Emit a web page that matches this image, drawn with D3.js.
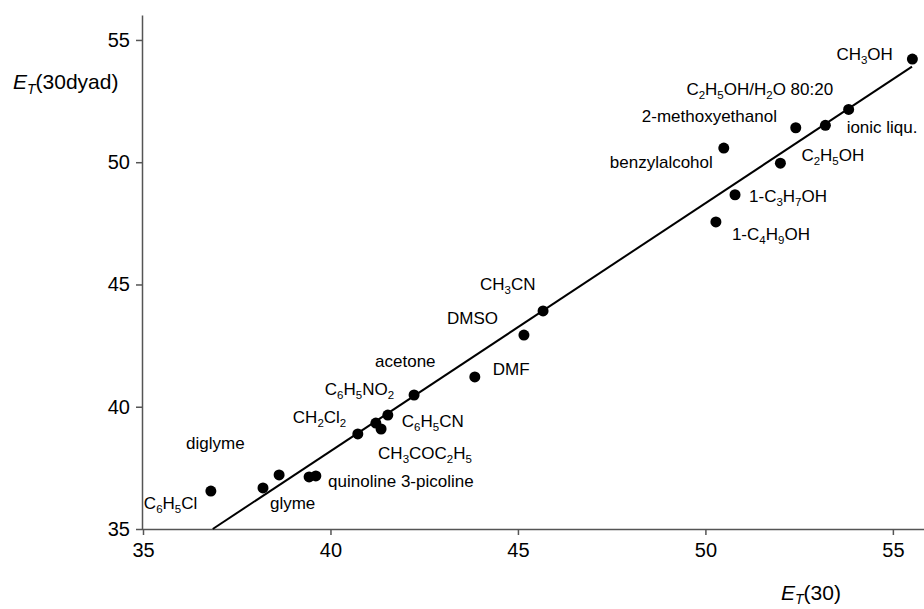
<!DOCTYPE html>
<html><head><meta charset="utf-8">
<script src="https://cdn.jsdelivr.net/npm/d3@7"></script>
<style>body{margin:0;background:#fff}svg{display:block;font-family:"Liberation Sans",Arial,sans-serif}</style>
</head><body><svg id="c" width="924" height="609"></svg>
<script>
// data
const solvents = ["C6H5Cl","glyme","diglyme","quinoline","3-picoline","CH2Cl2","C6H5NO2","CH3COC2H5","C6H5CN","acetone","DMF","DMSO","CH3CN","1-C4H9OH","1-C3H7OH","benzylalcohol","C2H5OH","2-methoxyethanol","C2H5OH/H2O 80:20","ionic liqu.","CH3OH"];
const et30 =      [36.81,38.20,38.63,39.43,39.61,40.73,41.21,41.35,41.53,42.23,43.85,45.16,45.67,50.28,50.79,50.49,52.00,52.41,53.20,53.82,55.52];
const et30dyad =  [36.55,36.68,37.21,37.13,37.17,38.89,39.33,39.09,39.66,40.48,41.22,42.93,43.92,47.56,48.67,50.58,49.96,51.41,51.51,52.16,54.22];
const fitX = [36.86, 55.51];
const fitY = [35.00, 53.91];
const xTicks = [35,40,45,50,55];
const yTicks = [35,40,45,50,55];
// label markup: [text, isSub] segments
const labelText = {
 "C6H5Cl":[["C"],["6",1],["H"],["5",1],["Cl"]],
 "glyme":[["glyme"]],
 "diglyme":[["diglyme"]],
 "quinoline":[["quinoline 3-picoline"]],
 "3-picoline":null,
 "CH2Cl2":[["CH"],["2",1],["Cl"],["2",1]],
 "C6H5NO2":[["C"],["6",1],["H"],["5",1],["NO"],["2",1]],
 "CH3COC2H5":[["CH"],["3",1],["COC"],["2",1],["H"],["5",1]],
 "C6H5CN":[["C"],["6",1],["H"],["5",1],["CN"]],
 "acetone":[["acetone"]],
 "DMF":[["DMF"]],
 "DMSO":[["DMSO"]],
 "CH3CN":[["CH"],["3",1],["CN"]],
 "1-C4H9OH":[["1-C"],["4",1],["H"],["9",1],["OH"]],
 "1-C3H7OH":[["1-C"],["3",1],["H"],["7",1],["OH"]],
 "benzylalcohol":[["benzylalcohol"]],
 "C2H5OH":[["C"],["2",1],["H"],["5",1],["OH"]],
 "2-methoxyethanol":[["2-methoxyethanol"]],
 "C2H5OH/H2O 80:20":[["C"],["2",1],["H"],["5",1],["OH/H"],["2",1],["O 80:20"]],
 "ionic liqu.":[["ionic liqu."]],
 "CH3OH":[["CH"],["3",1],["OH"]]
};
// label offsets (px) relative to point
const labelOffset = {
 "C6H5Cl":[-67,18],"glyme":[7,21],"diglyme":[-93,-26],"quinoline":[19,10],
 "CH2Cl2":[-65,-11],"C6H5NO2":[-51,-28],"CH3COC2H5":[-3,30],"C6H5CN":[14,12],
 "acetone":[-39,-28],"DMF":[18,-2],"DMSO":[-77,-11],"CH3CN":[-63,-21],
 "1-C4H9OH":[16,18],"1-C3H7OH":[14,7],"benzylalcohol":[-114,20],"C2H5OH":[21,-2],
 "2-methoxyethanol":[-154,-6],"C2H5OH/H2O 80:20":[-139,-30],"ionic liqu.":[-2,24],"CH3OH":[-76,1]
};

const svg = d3.select("#c");
const x = d3.scaleLinear().domain([35, 55.83]).range([143, 924]);
const y = d3.scaleLinear().domain([35, 56]).range([529, 15.5]);
const axisColor = "#555";

const gx = svg.append("g").attr("transform","translate(0,529)")
  .call(d3.axisBottom(x).tickValues(xTicks).tickSize(6).tickPadding(8).tickFormat(d3.format("d")));
const gy = svg.append("g").attr("transform","translate(143,0)")
  .call(d3.axisLeft(y).tickValues(yTicks).tickSize(7).tickPadding(6).tickFormat(d3.format("d")));
[gx,gy].forEach(g=>{
  g.select(".domain").attr("stroke",axisColor).attr("stroke-width",1.5);
  g.selectAll(".tick line").attr("stroke",axisColor).attr("stroke-width",1.5);
  g.selectAll(".tick text").attr("fill","#000").style("font-size","20px").style("font-family","'Liberation Sans',Arial,sans-serif");
});
gx.select(".domain").attr("d","M143,0.5H924");
gy.select(".domain").attr("d","M-0.5,529V15.5");

// fit line
svg.append("line")
  .attr("x1",x(fitX[0])).attr("y1",y(fitY[0]))
  .attr("x2",x(fitX[1])).attr("y2",y(fitY[1]))
  .attr("stroke","#000").attr("stroke-width",2);

// points
svg.selectAll("circle.pt").data(solvents).enter().append("circle")
  .attr("class","pt").attr("cx",(d,i)=>x(et30[i])).attr("cy",(d,i)=>y(et30dyad[i]))
  .attr("r",5.5).attr("fill","#000");

// labels
solvents.forEach((s,i)=>{
  const segs = labelText[s]; if(!segs) return;
  const off = labelOffset[s];
  const t = svg.append("text").attr("x",x(et30[i])+off[0]).attr("y",y(et30dyad[i])+off[1])
    .style("font-size","17px").attr("fill","#000");
  let prevSub=false;
  segs.forEach(sg=>{
    const sub = !!sg[1];
    const ts = t.append("tspan").text(sg[0]);
    if(sub){ ts.style("font-size","11.5px").attr("dy", prevSub?0:4); }
    else if(prevSub){ ts.attr("dy",-4); }
    prevSub = sub;
  });
});

// axis titles
const yt = svg.append("text").attr("x",13).attr("y",89).style("font-size","21px");
yt.append("tspan").text("E").style("font-style","italic");
yt.append("tspan").text("T").style("font-style","italic").style("font-size","14px").attr("dy",5);
yt.append("tspan").text("(30dyad)").attr("dy",-5);
const xt = svg.append("text").attr("x",781).attr("y",600).style("font-size","21px");
xt.append("tspan").text("E").style("font-style","italic");
xt.append("tspan").text("T").style("font-style","italic").style("font-size","14px").attr("dy",4);
xt.append("tspan").text("(30)").attr("dy",-4);
</script></body></html>
